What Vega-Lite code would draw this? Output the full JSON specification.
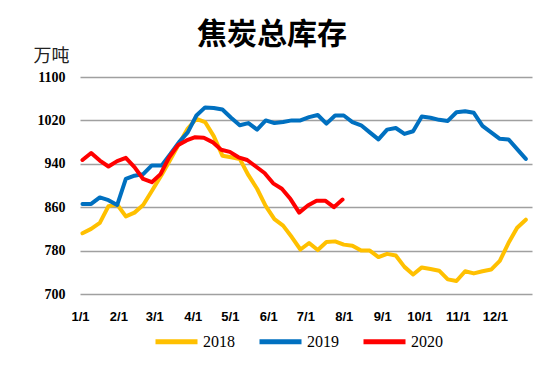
{
  "$schema": "https://vega.github.io/schema/vega-lite/v6.json",
  "width": 452,
  "height": 217,
  "autosize": {"type": "none"},
  "padding": {"left": 80, "top": 77, "right": 18, "bottom": 71},
  "background": "white",
  "title": {
    "text": "焦炭总库存",
    "anchor": "middle",
    "frame": "group",
    "dx": -34,
    "font": "Noto Sans CJK SC",
    "fontSize": 30,
    "fontWeight": "bold",
    "color": "#000000",
    "offset": -3
  },
  "config": {
    "view": {"stroke": null},
    "axis": {"domain": false, "ticks": false}
  },
  "data": {
    "values": [
      {"date": "2018-01-03", "year": "2018", "value": 812},
      {"date": "2018-01-10", "year": "2018", "value": 820},
      {"date": "2018-01-17", "year": "2018", "value": 831},
      {"date": "2018-01-24", "year": "2018", "value": 862},
      {"date": "2018-01-31", "year": "2018", "value": 865},
      {"date": "2018-02-07", "year": "2018", "value": 843},
      {"date": "2018-02-14", "year": "2018", "value": 850},
      {"date": "2018-02-21", "year": "2018", "value": 864},
      {"date": "2018-02-28", "year": "2018", "value": 890},
      {"date": "2018-03-07", "year": "2018", "value": 920},
      {"date": "2018-03-14", "year": "2018", "value": 948},
      {"date": "2018-03-21", "year": "2018", "value": 977},
      {"date": "2018-03-28", "year": "2018", "value": 1005},
      {"date": "2018-04-04", "year": "2018", "value": 1023},
      {"date": "2018-04-11", "year": "2018", "value": 1017},
      {"date": "2018-04-18", "year": "2018", "value": 991},
      {"date": "2018-04-25", "year": "2018", "value": 955},
      {"date": "2018-05-02", "year": "2018", "value": 952},
      {"date": "2018-05-09", "year": "2018", "value": 949},
      {"date": "2018-05-16", "year": "2018", "value": 919},
      {"date": "2018-05-23", "year": "2018", "value": 894},
      {"date": "2018-05-30", "year": "2018", "value": 862},
      {"date": "2018-06-06", "year": "2018", "value": 838},
      {"date": "2018-06-13", "year": "2018", "value": 826},
      {"date": "2018-06-20", "year": "2018", "value": 805},
      {"date": "2018-06-27", "year": "2018", "value": 782},
      {"date": "2018-07-04", "year": "2018", "value": 794},
      {"date": "2018-07-11", "year": "2018", "value": 781},
      {"date": "2018-07-18", "year": "2018", "value": 796},
      {"date": "2018-07-25", "year": "2018", "value": 797},
      {"date": "2018-08-01", "year": "2018", "value": 791},
      {"date": "2018-08-08", "year": "2018", "value": 789},
      {"date": "2018-08-15", "year": "2018", "value": 780},
      {"date": "2018-08-22", "year": "2018", "value": 780},
      {"date": "2018-08-29", "year": "2018", "value": 768},
      {"date": "2018-09-05", "year": "2018", "value": 774},
      {"date": "2018-09-12", "year": "2018", "value": 771},
      {"date": "2018-09-19", "year": "2018", "value": 750},
      {"date": "2018-09-26", "year": "2018", "value": 736},
      {"date": "2018-10-03", "year": "2018", "value": 749},
      {"date": "2018-10-10", "year": "2018", "value": 746},
      {"date": "2018-10-17", "year": "2018", "value": 743},
      {"date": "2018-10-24", "year": "2018", "value": 727},
      {"date": "2018-10-31", "year": "2018", "value": 724},
      {"date": "2018-11-07", "year": "2018", "value": 742},
      {"date": "2018-11-14", "year": "2018", "value": 738},
      {"date": "2018-11-21", "year": "2018", "value": 742},
      {"date": "2018-11-28", "year": "2018", "value": 745},
      {"date": "2018-12-05", "year": "2018", "value": 761},
      {"date": "2018-12-12", "year": "2018", "value": 794},
      {"date": "2018-12-19", "year": "2018", "value": 822},
      {"date": "2018-12-26", "year": "2018", "value": 837},
      {"date": "2019-01-03", "year": "2019", "value": 866},
      {"date": "2019-01-10", "year": "2019", "value": 866},
      {"date": "2019-01-17", "year": "2019", "value": 878},
      {"date": "2019-01-24", "year": "2019", "value": 873},
      {"date": "2019-01-31", "year": "2019", "value": 864},
      {"date": "2019-02-07", "year": "2019", "value": 912},
      {"date": "2019-02-14", "year": "2019", "value": 918},
      {"date": "2019-02-21", "year": "2019", "value": 921},
      {"date": "2019-02-28", "year": "2019", "value": 937},
      {"date": "2019-03-07", "year": "2019", "value": 937},
      {"date": "2019-03-14", "year": "2019", "value": 958},
      {"date": "2019-03-21", "year": "2019", "value": 980},
      {"date": "2019-03-28", "year": "2019", "value": 998},
      {"date": "2019-04-04", "year": "2019", "value": 1029},
      {"date": "2019-04-11", "year": "2019", "value": 1044},
      {"date": "2019-04-18", "year": "2019", "value": 1043},
      {"date": "2019-04-25", "year": "2019", "value": 1040},
      {"date": "2019-05-02", "year": "2019", "value": 1025},
      {"date": "2019-05-09", "year": "2019", "value": 1011},
      {"date": "2019-05-16", "year": "2019", "value": 1015},
      {"date": "2019-05-23", "year": "2019", "value": 1003},
      {"date": "2019-05-30", "year": "2019", "value": 1020},
      {"date": "2019-06-06", "year": "2019", "value": 1015},
      {"date": "2019-06-13", "year": "2019", "value": 1017},
      {"date": "2019-06-20", "year": "2019", "value": 1020},
      {"date": "2019-06-27", "year": "2019", "value": 1020},
      {"date": "2019-07-04", "year": "2019", "value": 1026},
      {"date": "2019-07-11", "year": "2019", "value": 1030},
      {"date": "2019-07-18", "year": "2019", "value": 1014},
      {"date": "2019-07-25", "year": "2019", "value": 1029},
      {"date": "2019-08-01", "year": "2019", "value": 1029},
      {"date": "2019-08-08", "year": "2019", "value": 1017},
      {"date": "2019-08-15", "year": "2019", "value": 1011},
      {"date": "2019-08-22", "year": "2019", "value": 998},
      {"date": "2019-08-29", "year": "2019", "value": 985},
      {"date": "2019-09-05", "year": "2019", "value": 1003},
      {"date": "2019-09-12", "year": "2019", "value": 1006},
      {"date": "2019-09-19", "year": "2019", "value": 995},
      {"date": "2019-09-26", "year": "2019", "value": 1000},
      {"date": "2019-10-03", "year": "2019", "value": 1027},
      {"date": "2019-10-10", "year": "2019", "value": 1025},
      {"date": "2019-10-17", "year": "2019", "value": 1021},
      {"date": "2019-10-24", "year": "2019", "value": 1019},
      {"date": "2019-10-31", "year": "2019", "value": 1035},
      {"date": "2019-11-07", "year": "2019", "value": 1037},
      {"date": "2019-11-14", "year": "2019", "value": 1034},
      {"date": "2019-11-21", "year": "2019", "value": 1010},
      {"date": "2019-11-28", "year": "2019", "value": 998},
      {"date": "2019-12-05", "year": "2019", "value": 986},
      {"date": "2019-12-12", "year": "2019", "value": 985},
      {"date": "2019-12-19", "year": "2019", "value": 967},
      {"date": "2019-12-26", "year": "2019", "value": 949},
      {"date": "2020-01-03", "year": "2020", "value": 947},
      {"date": "2020-01-10", "year": "2020", "value": 960},
      {"date": "2020-01-17", "year": "2020", "value": 946},
      {"date": "2020-01-24", "year": "2020", "value": 935},
      {"date": "2020-01-31", "year": "2020", "value": 945},
      {"date": "2020-02-07", "year": "2020", "value": 951},
      {"date": "2020-02-14", "year": "2020", "value": 934},
      {"date": "2020-02-21", "year": "2020", "value": 912},
      {"date": "2020-02-28", "year": "2020", "value": 906},
      {"date": "2020-03-06", "year": "2020", "value": 921},
      {"date": "2020-03-13", "year": "2020", "value": 952},
      {"date": "2020-03-20", "year": "2020", "value": 974},
      {"date": "2020-03-27", "year": "2020", "value": 983},
      {"date": "2020-04-03", "year": "2020", "value": 989},
      {"date": "2020-04-10", "year": "2020", "value": 988},
      {"date": "2020-04-17", "year": "2020", "value": 980},
      {"date": "2020-04-24", "year": "2020", "value": 966},
      {"date": "2020-05-01", "year": "2020", "value": 962},
      {"date": "2020-05-08", "year": "2020", "value": 952},
      {"date": "2020-05-15", "year": "2020", "value": 947},
      {"date": "2020-05-22", "year": "2020", "value": 935},
      {"date": "2020-05-29", "year": "2020", "value": 923},
      {"date": "2020-06-05", "year": "2020", "value": 904},
      {"date": "2020-06-12", "year": "2020", "value": 894},
      {"date": "2020-06-19", "year": "2020", "value": 875},
      {"date": "2020-06-26", "year": "2020", "value": 850},
      {"date": "2020-07-03", "year": "2020", "value": 863},
      {"date": "2020-07-10", "year": "2020", "value": 872},
      {"date": "2020-07-17", "year": "2020", "value": 872},
      {"date": "2020-07-24", "year": "2020", "value": 860},
      {"date": "2020-07-31", "year": "2020", "value": 874}
    ]
  },
  "mark": {"type": "line", "strokeWidth": 4, "strokeJoin": "round", "strokeCap": "round"},
  "encoding": {
    "x": {
      "field": "date",
      "type": "temporal",
      "timeUnit": "utcmonthdate",
      "scale": {
        "domain": [
          {"year": 2012, "month": 1, "date": 1, "utc": true},
          {"year": 2012, "month": 12, "date": 31, "utc": true}
        ]
      },
      "axis": {
        "title": null,
        "grid": false,
        "values": [
          {"year": 2012, "month": 1, "date": 1, "utc": true},
          {"year": 2012, "month": 2, "date": 1, "utc": true},
          {"year": 2012, "month": 3, "date": 1, "utc": true},
          {"year": 2012, "month": 4, "date": 1, "utc": true},
          {"year": 2012, "month": 5, "date": 1, "utc": true},
          {"year": 2012, "month": 6, "date": 1, "utc": true},
          {"year": 2012, "month": 7, "date": 1, "utc": true},
          {"year": 2012, "month": 8, "date": 1, "utc": true},
          {"year": 2012, "month": 9, "date": 1, "utc": true},
          {"year": 2012, "month": 10, "date": 1, "utc": true},
          {"year": 2012, "month": 11, "date": 1, "utc": true},
          {"year": 2012, "month": 12, "date": 1, "utc": true}
        ],
        "labelExpr": "utcFormat(datum.value, '%-m/%-d')",
        "labelFont": "Liberation Sans",
        "labelFontWeight": "bold",
        "labelFontSize": 13,
        "labelColor": "#000000",
        "labelPadding": 16,
        "labelOverlap": false,
        "labelFlush": false
      }
    },
    "y": {
      "field": "value",
      "type": "quantitative",
      "scale": {"domain": [700, 1100], "nice": false, "zero": false},
      "axis": {
        "values": [700, 780, 860, 940, 1020, 1100],
        "format": "d",
        "title": "万吨",
        "titleAngle": 0,
        "titleX": -47,
        "titleY": -16,
        "titleAlign": "left",
        "titleBaseline": "alphabetic",
        "titleFont": "Noto Sans CJK SC",
        "titleFontSize": 18,
        "titleFontWeight": "normal",
        "titleColor": "#222222",
        "labelFont": "Liberation Serif",
        "labelFontWeight": "bold",
        "labelFontSize": 14,
        "labelColor": "#000000",
        "labelPadding": 15,
        "grid": true,
        "gridColor": "#A0A0A0",
        "gridWidth": 1.5
      }
    },
    "color": {
      "field": "year",
      "type": "nominal",
      "scale": {"domain": ["2018", "2019", "2020"], "range": ["#FFC000", "#0070C0", "#FF0000"]},
      "legend": {
        "title": null,
        "orient": "none",
        "direction": "horizontal",
        "legendX": 73,
        "legendY": 241,
        "padding": 0,
        "symbolType": "stroke",
        "symbolSize": 1764,
        "symbolStrokeWidth": 5,
        "labelFont": "Liberation Serif",
        "labelFontSize": 16,
        "labelColor": "#000000",
        "labelOffset": 3,
        "columnPadding": 14
      }
    }
  }
}
